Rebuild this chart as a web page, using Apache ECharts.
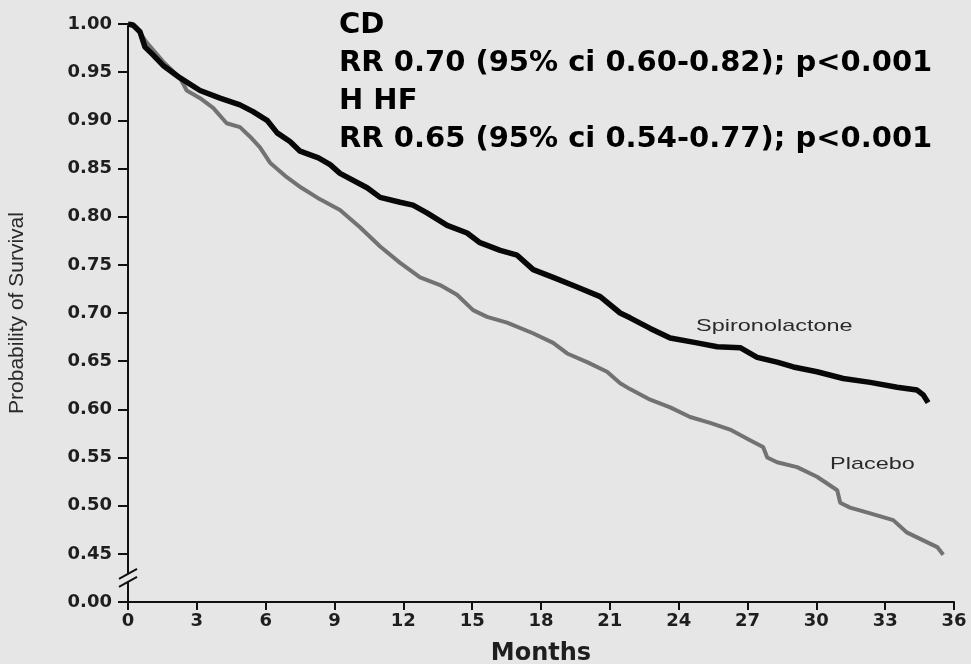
<!DOCTYPE html>
<html>
<head>
<meta charset="utf-8">
<script src="https://cdn.jsdelivr.net/npm/echarts@6/dist/echarts.min.js"></script>
<style>
html,body{margin:0;padding:0;background:#e6e6e6;}
#chart{width:971px;height:664px;}
</style>
</head>
<body>
<div id="chart"></div>
<script>
// ---- Data ----
var spiroMonths = [0, 0.22, 0.52, 0.74, 1.09, 1.53, 2.27, 3.14, 4.01, 4.88, 5.45, 6.06, 6.50, 7.06, 7.50, 8.30, 8.81, 9.24, 10.42, 10.99, 11.86, 12.42, 13.03, 13.91, 14.78, 15.34, 16.22, 16.96, 17.66, 18.53, 19.57, 20.58, 21.45, 21.88, 22.76, 23.63, 24.80, 25.68, 26.68, 27.42, 28.29, 29.00, 30.03, 31.17, 32.35, 33.52, 34.39, 34.66, 34.87];
var spiroSurv   = [1.000, 0.999, 0.992, 0.976, 0.968, 0.957, 0.944, 0.931, 0.923, 0.916, 0.909, 0.900, 0.887, 0.878, 0.868, 0.861, 0.854, 0.845, 0.830, 0.820, 0.815, 0.812, 0.804, 0.791, 0.783, 0.773, 0.765, 0.760, 0.745, 0.737, 0.727, 0.717, 0.700, 0.695, 0.684, 0.674, 0.669, 0.665, 0.664, 0.654, 0.649, 0.644, 0.639, 0.632, 0.628, 0.623, 0.620, 0.615, 0.607];

var placeboMonths = [0, 0.38, 0.81, 1.53, 2.27, 2.56, 3.14, 3.71, 4.30, 4.88, 5.32, 5.75, 6.19, 6.92, 7.56, 8.37, 9.24, 10.11, 10.99, 11.86, 12.73, 13.60, 14.34, 15.04, 15.65, 16.52, 17.65, 18.53, 19.14, 20.01, 20.88, 21.45, 21.88, 22.76, 23.63, 24.50, 25.37, 26.24, 27.11, 27.68, 27.86, 28.29, 29.16, 30.03, 30.91, 31.04, 31.47, 32.35, 33.35, 33.96, 34.66, 35.27, 35.53];
var placeboSurv   = [1.000, 0.996, 0.981, 0.961, 0.944, 0.931, 0.923, 0.913, 0.897, 0.893, 0.883, 0.872, 0.856, 0.841, 0.830, 0.818, 0.807, 0.789, 0.769, 0.752, 0.737, 0.729, 0.719, 0.703, 0.696, 0.690, 0.679, 0.669, 0.658, 0.649, 0.639, 0.627, 0.621, 0.610, 0.602, 0.592, 0.586, 0.579, 0.568, 0.561, 0.550, 0.545, 0.540, 0.530, 0.516, 0.503, 0.498, 0.492, 0.485, 0.472, 0.464, 0.457, 0.449];

var seriesNames = ['Spironolactone', 'Placebo'];
var xTicks = [0, 3, 6, 9, 12, 15, 18, 21, 24, 27, 30, 33, 36];
var yTicks = [0.40, 0.45, 0.50, 0.55, 0.60, 0.65, 0.70, 0.75, 0.80, 0.85, 0.90, 0.95, 1.00];
var yTickLabels = ['0.00', '0.45', '0.50', '0.55', '0.60', '0.65', '0.70', '0.75', '0.80', '0.85', '0.90', '0.95', '1.00'];
var annotationLines = ['CD', 'RR 0.70 (95% ci 0.60-0.82); p<0.001', 'H HF', 'RR 0.65 (95% ci 0.54-0.77); p<0.001'];
var seriesLabelAnchors = [[24.76, 0.686], [30.6, 0.543]];

function zip(xs, ys) { return xs.map(function (x, i) { return [x, ys[i]]; }); }

var chart = echarts.init(document.getElementById('chart'));
var BG = '#e6e6e6';
var tickFont = { fontFamily: 'DejaVu Sans', fontWeight: 'bold', fontSize: 18, color: '#1e1e1e' };

var option = {
  backgroundColor: BG,
  animation: false,
  grid: { left: 128, right: 17, top: 24, bottom: 62, containLabel: false, outerBoundsMode: 'none' },
  title: {
    text: annotationLines.join('\n'),
    left: 339, top: 6, padding: 0,
    textStyle: { fontFamily: 'DejaVu Sans', fontWeight: 'bold', fontSize: 29, lineHeight: 38, color: '#000' }
  },
  xAxis: {
    type: 'value', min: xTicks[0], max: xTicks[xTicks.length - 1], interval: 3,
    name: 'Months', nameLocation: 'middle', nameGap: 40,
    nameTextStyle: { fontFamily: 'DejaVu Sans', fontWeight: 'bold', fontSize: 24, color: '#1e1e1e' },
    axisLine: { show: true, onZero: false, lineStyle: { color: '#111', width: 2 } },
    axisTick: { show: true, length: 8, lineStyle: { color: '#111', width: 2 } },
    axisLabel: Object.assign({ margin: 10 }, tickFont),
    splitLine: { show: false }
  },
  yAxis: {
    type: 'value', min: yTicks[0], max: yTicks[yTicks.length - 1], interval: 0.05,
    name: 'Probability of Survival', nameLocation: 'middle', nameGap: 100, nameRotate: 90,
    nameTextStyle: { fontFamily: 'Liberation Sans', fontSize: 21, color: '#2a2a2a' },
    axisLine: { show: true, onZero: false, lineStyle: { color: '#111', width: 2 } },
    axisTick: { show: true, length: 10, lineStyle: { color: '#111', width: 2 } },
    axisLabel: Object.assign({
      margin: 16,
      formatter: function (v) {
        for (var i = 0; i < yTicks.length; i++) { if (Math.abs(yTicks[i] - v) < 1e-6) return yTickLabels[i]; }
        return '';
      }
    }, tickFont),
    splitLine: { show: false }
  },
  series: [
    {
      name: seriesNames[1], type: 'line', data: zip(placeboMonths, placeboSurv),
      showSymbol: false, symbol: 'none', smooth: false, z: 2,
      lineStyle: { color: '#727272', width: 4 }
    },
    {
      name: seriesNames[0], type: 'line', data: zip(spiroMonths, spiroSurv),
      showSymbol: false, symbol: 'none', smooth: false, z: 3,
      lineStyle: { color: '#080808', width: 5.5 }
    }
  ]
};
chart.setOption(option);

// axis-break mark and series labels, positioned through the chart's own scales
var brk = chart.convertToPixel({ gridIndex: 0 }, [0, 0.425]);
var p1 = chart.convertToPixel({ gridIndex: 0 }, seriesLabelAnchors[0]);
var p2 = chart.convertToPixel({ gridIndex: 0 }, seriesLabelAnchors[1]);
chart.setOption({
  graphic: [
    { type: 'rect', shape: { x: brk[0] - 3, y: brk[1] - 4, width: 6, height: 8 }, style: { fill: BG }, z: 100 },
    { type: 'line', shape: { x1: brk[0] - 9, y1: brk[1] + 1, x2: brk[0] + 9, y2: brk[1] - 9 }, style: { stroke: '#111', lineWidth: 2 }, z: 101 },
    { type: 'line', shape: { x1: brk[0] - 9, y1: brk[1] + 9, x2: brk[0] + 9, y2: brk[1] - 1 }, style: { stroke: '#111', lineWidth: 2 }, z: 101 },
    { type: 'text', x: p1[0], y: p1[1], scaleX: 1.38, z: 101,
      style: { text: seriesNames[0], fontFamily: 'Liberation Sans', fontSize: 17, fill: '#2a2a2a', textAlign: 'left', textVerticalAlign: 'middle' } },
    { type: 'text', x: p2[0], y: p2[1], scaleX: 1.38, z: 101,
      style: { text: seriesNames[1], fontFamily: 'Liberation Sans', fontSize: 17, fill: '#2a2a2a', textAlign: 'left', textVerticalAlign: 'middle' } }
  ]
});
</script>
</body>
</html>
